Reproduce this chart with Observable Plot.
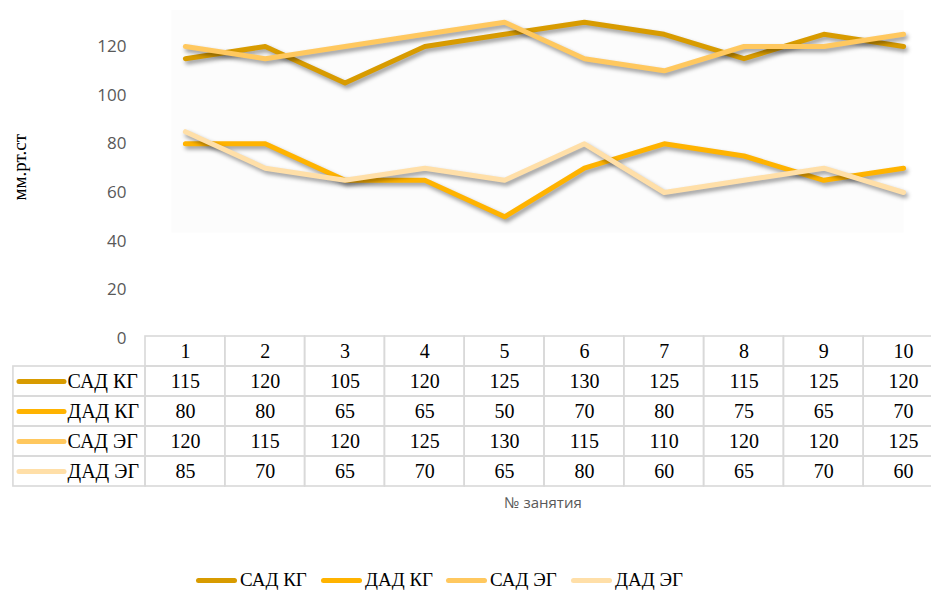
<!DOCTYPE html>
<html>
<head>
<meta charset="utf-8">
<script src="https://cdn.jsdelivr.net/npm/d3@7"></script>
<script src="https://cdn.jsdelivr.net/npm/@observablehq/plot@0.6"></script>
<style>
  html, body { margin: 0; padding: 0; background: #fff; }
  #wrap { position: relative; width: 931px; height: 592px; overflow: hidden; }
  #wrap svg { position: absolute; left: 0; overflow: visible; }
  #chart g[aria-label="line"] path { filter: drop-shadow(2px 3px 2px rgba(0,0,0,0.4)); }
  #xtitle { position: absolute; top: 492px; left: 0; width: 1086px; text-align: center;
            font: 15px "Open Sans", sans-serif; color: #595959; }
  #legend { position: absolute; top: 569px; left: 196px; display: flex; }
  .item { width: 125px; display: flex; align-items: center; font-size: 19px; color: #000;
          font-family: "Liberation Serif", "Times New Roman", serif; }
  .sw { display: inline-block; width: 41px; height: 5px; border-radius: 3px; margin-right: 3px; }
</style>
</head>
<body>
<div id="wrap">
  <div id="chart"></div>
  <div id="table"></div>
  <div id="xtitle">№ занятия</div>
  <div id="legend"></div>
</div>
<script>
// Sessions and blood pressure readings (mm Hg)
const sessions = [1, 2, 3, 4, 5, 6, 7, 8, 9, 10];
const seriesNames = ["САД КГ", "ДАД КГ", "САД ЭГ", "ДАД ЭГ"];
const sadKG = [115, 120, 105, 120, 125, 130, 125, 115, 125, 120];
const dadKG = [80, 80, 65, 65, 50, 70, 80, 75, 65, 70];
const sadEG = [120, 115, 120, 125, 130, 115, 110, 120, 120, 125];
const dadEG = [85, 70, 65, 70, 65, 80, 60, 65, 70, 60];
const seriesColors = ["#d89b00", "#ffb300", "#ffc85f", "#ffdfa8"];
const yTicks = [0, 20, 40, 60, 80, 100, 120];

const serifFont = "'Liberation Serif', 'Times New Roman', serif";

const seriesValues = [sadKG, dadKG, sadEG, dadEG];
const rows = seriesNames.flatMap((name, i) =>
  sessions.map((s, j) => ({series: name, session: s, value: seriesValues[i][j]})));

// shared horizontal scale: one table column per session
const xScale = {type: "linear", domain: [0.5, 10.5], range: [145, 943]};
const colorScale = {domain: seriesNames, range: seriesColors};
// label column of the data table, in session units (left of column 1)
const labelLeft = -1.155, swatchStart = -1.079, swatchEnd = -0.515, labelTextStart = -0.477;

const chart = Plot.plot({
  width: 931,
  height: 345,
  marginLeft: 145,
  marginRight: 0,
  marginTop: 9.5,
  marginBottom: 7,
  x: {...xScale, axis: null},
  y: {domain: [0, 135], ticks: yTicks, tickSize: 0, tickPadding: 19, label: null, tickFormat: d => String(d)},
  color: colorScale,
  style: {fontFamily: "'Open Sans', sans-serif", fontSize: "17px", color: "#595959", background: "transparent"},
  marks: [
    Plot.frame({fill: "#fcfcfc", stroke: null, insetLeft: 26, insetRight: 28, insetBottom: 106}),
    Plot.line(rows, {x: "session", y: "value", z: "series", stroke: "series",
      strokeWidth: 5, strokeLinecap: "round", strokeLinejoin: "round"}),
    Plot.text(["мм.рт.ст"], {frameAnchor: "left", textAnchor: "middle", dx: -126, dy: -7, rotate: -90,
      fontFamily: serifFont, fontSize: 19, fill: "#000"})
  ]
});
chart.style.top = "0px";
document.getElementById("chart").appendChild(chart);

// data table under the chart
const rowKeys = ["head", ...seriesNames];
const cells = [
  ...sessions.map(s => ({row: "head", x1: s - 0.5, x2: s + 0.5})),
  ...seriesNames.flatMap(name => [
    {row: name, x1: labelLeft, x2: 0.5},
    ...sessions.map(s => ({row: name, x1: s - 0.5, x2: s + 0.5}))
  ])
];

const table = Plot.plot({
  width: 931,
  height: 153,
  marginLeft: 0,
  marginRight: 0,
  marginTop: 1,
  marginBottom: 2,
  x: {...xScale, axis: null},
  y: {type: "band", domain: rowKeys, range: [1, 151], padding: 0, axis: null},
  color: colorScale,
  style: {fontFamily: serifFont, fontSize: "20px", color: "#000", background: "transparent"},
  marks: [
    Plot.barX(cells, {x1: "x1", x2: "x2", y: "row", fill: "none", stroke: "#d9d9d9", strokeWidth: 1.6}),
    Plot.text(sessions, {x: d => d, y: () => "head", text: d => String(d),
      fontFamily: serifFont, fontSize: 20, fill: "#000"}),
    Plot.text(rows, {x: "session", y: "series", text: d => String(d.value),
      fontFamily: serifFont, fontSize: 20, fill: "#000"}),
    Plot.ruleY(seriesNames, {y: d => d, x1: () => swatchStart, x2: () => swatchEnd, stroke: d => d,
      strokeWidth: 5, strokeLinecap: "round"}),
    Plot.text(seriesNames, {x: () => labelTextStart, y: d => d, text: d => d, textAnchor: "start",
      fontFamily: serifFont, fontSize: 20, fill: "#000"})
  ]
});
table.style.top = "335px";
document.getElementById("table").appendChild(table);

// legend below the table
const legend = document.getElementById("legend");
seriesNames.forEach((name, i) => {
  const item = document.createElement("div");
  item.className = "item";
  const sw = document.createElement("span");
  sw.className = "sw";
  sw.style.background = seriesColors[i];
  item.appendChild(sw);
  item.appendChild(document.createTextNode(name));
  legend.appendChild(item);
});
</script>
</body>
</html>
